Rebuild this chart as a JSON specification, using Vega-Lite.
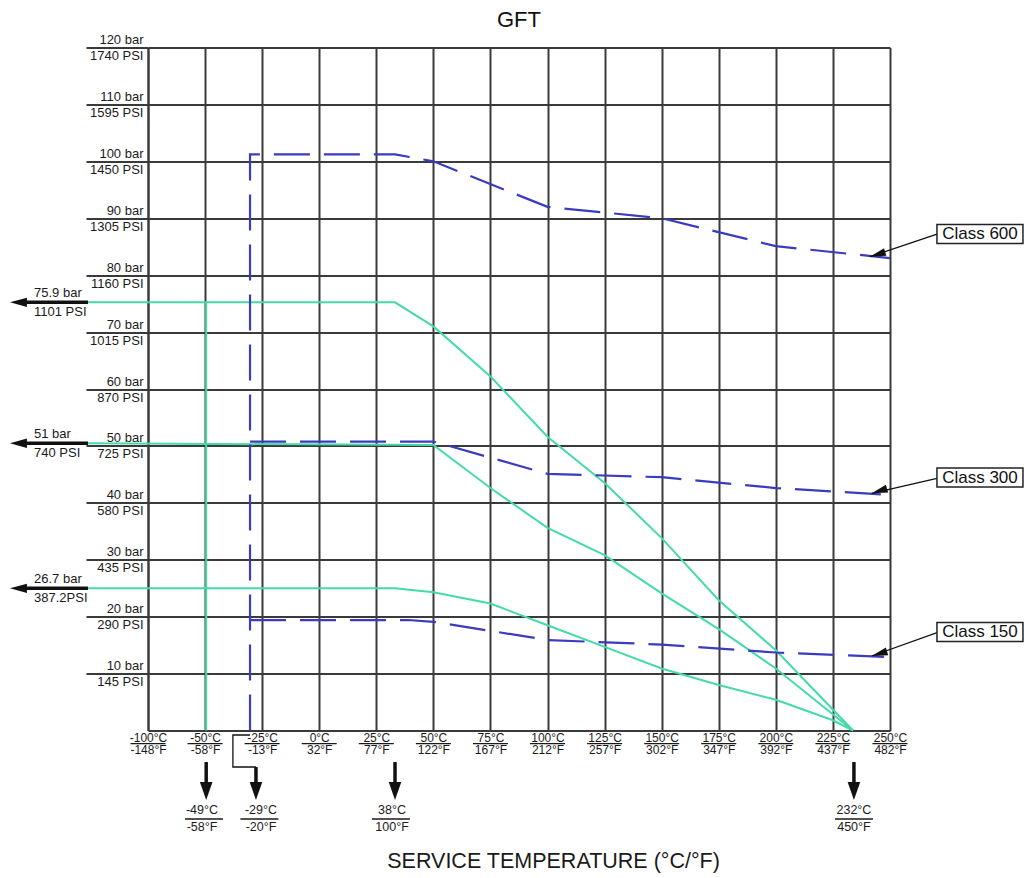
{
  "$schema": "https://vega.github.io/schema/vega-lite/v6.json",
  "width": 742,
  "height": 683,
  "autosize": "none",
  "padding": {"left": 148, "top": 47.5, "right": 139, "bottom": 147.5},
  "background": "white",
  "config": {"view": {"stroke": null}, "font": "Liberation Sans"},
  "title": {"text": "GFT", "fontSize": 22, "fontWeight": "normal", "font": "Liberation Sans", "color": "#111111", "frame": "group", "baseline": "alphabetic", "offset": 18, "dy": 33, "anchor": "middle"},
  "encoding": {
    "x": {
      "field": "t", "type": "quantitative",
      "scale": {"domain": [-100, -50, 250], "range": [0, 57.05, 742], "nice": false, "zero": false},
      "axis": {
        "values": [-100, -50, -25, 0, 25, 50, 75, 100, 125, 150, 175, 200, 225, 250],
        "grid": true, "gridColor": "#3a3a3a", "gridWidth": 2,
        "ticks": false, "domain": true, "domainColor": "#3a3a3a", "domainWidth": 2,
        "labelExpr": "[datum.value + '°C', (datum.value * 9 / 5 + 32) + '°F']",
        "labelFont": "Liberation Sans", "labelFontSize": 12, "labelColor": "#1a1a1a",
        "labelPadding": 1.5, "labelLineHeight": 12.5, "labelBaseline": "top",
        "labelFlush": false, "labelOverlap": false,
        "title": "SERVICE TEMPERATURE (°C/°F)", "titleFont": "Liberation Sans", "titleFontSize": 21.5,
        "titleFontWeight": "normal", "titleColor": "#1a1a1a", "titleY": 130.5, "titleX": 405,
        "titleAlign": "center", "titleBaseline": "middle"
      }
    },
    "y": {
      "field": "p", "type": "quantitative",
      "scale": {"domain": [0, 120], "nice": false, "zero": false},
      "axis": {
        "values": [10, 20, 30, 40, 50, 60, 70, 80, 90, 100, 110, 120],
        "grid": true, "gridColor": "#3a3a3a", "gridWidth": 2,
        "ticks": true, "tickSize": 62, "tickColor": "#3a3a3a", "tickWidth": 2,
        "domain": true, "domainColor": "#3a3a3a", "domainWidth": 2,
        "labelExpr": "[datum.value + ' bar', (datum.value * 14.5) + ' PSI']",
        "labelFont": "Liberation Sans", "labelFontSize": 13, "labelColor": "#1a1a1a",
        "labelPadding": -57, "labelAlign": "right", "labelBaseline": "middle", "labelLineHeight": 16,
        "labelOffset": -8,
        "labelFlush": false, "labelOverlap": false,
        "title": null
      }
    }
  },
  "layer": [
    {
      "data": {"values": [
        {"s": "G1", "t": -152.6, "p": 75.23}, {"s": "G1", "t": 33.2, "p": 75.23}, {"s": "G1", "t": 50, "p": 71.0},
        {"s": "G1", "t": 75, "p": 62.2}, {"s": "G1", "t": 100, "p": 51.6}, {"s": "G1", "t": 125, "p": 43.5},
        {"s": "G1", "t": 150, "p": 33.8}, {"s": "G1", "t": 175, "p": 22.9}, {"s": "G1", "t": 200, "p": 14.1},
        {"s": "G1", "t": 233.8, "p": 0},
        {"s": "G2", "t": -152.6, "p": 50.46}, {"s": "G2", "t": 50, "p": 50.16}, {"s": "G2", "t": 75, "p": 42.6},
        {"s": "G2", "t": 100, "p": 35.6}, {"s": "G2", "t": 125, "p": 30.8}, {"s": "G2", "t": 150, "p": 24.1},
        {"s": "G2", "t": 175, "p": 17.8}, {"s": "G2", "t": 200, "p": 10.9}, {"s": "G2", "t": 233.8, "p": 0},
        {"s": "G3", "t": -152.6, "p": 24.98}, {"s": "G3", "t": 33.2, "p": 24.98}, {"s": "G3", "t": 50, "p": 24.3},
        {"s": "G3", "t": 75, "p": 22.3}, {"s": "G3", "t": 100, "p": 18.5}, {"s": "G3", "t": 125, "p": 14.7},
        {"s": "G3", "t": 150, "p": 10.9}, {"s": "G3", "t": 175, "p": 8.0}, {"s": "G3", "t": 200, "p": 5.4},
        {"s": "G3", "t": 225, "p": 1.8}, {"s": "G3", "t": 233.8, "p": 0},
        {"s": "GV", "t": -49.5, "p": 0}, {"s": "GV", "t": -49.5, "p": 75.23}
      ]},
      "mark": {"type": "line", "color": "#45dba8", "strokeWidth": 2},
      "encoding": {"detail": {"field": "s"}, "order": {"value": null}}
    },
    {
      "data": {"values": [
        {"s": "C600", "t": -30.3, "p": 0}, {"s": "C600", "t": -30.3, "p": 101.23}, {"s": "C600", "t": 33.2, "p": 101.23},
        {"s": "C600", "t": 50, "p": 100.0}, {"s": "C600", "t": 100, "p": 92.0}, {"s": "C600", "t": 150, "p": 90.0},
        {"s": "C600", "t": 200, "p": 85.1}, {"s": "C600", "t": 250, "p": 83.0},
        {"s": "C300", "t": -30.3, "p": 50.77}, {"s": "C300", "t": 50, "p": 50.77}, {"s": "C300", "t": 100, "p": 45.1},
        {"s": "C300", "t": 150, "p": 44.5}, {"s": "C300", "t": 200, "p": 42.6}, {"s": "C300", "t": 250, "p": 41.4},
        {"s": "C150", "t": -30.3, "p": 19.41}, {"s": "C150", "t": 39, "p": 19.41}, {"s": "C150", "t": 50, "p": 19.1},
        {"s": "C150", "t": 100, "p": 15.9}, {"s": "C150", "t": 150, "p": 15.1}, {"s": "C150", "t": 200, "p": 13.7},
        {"s": "C150", "t": 250, "p": 12.9}
      ]},
      "mark": {"type": "line", "color": "#3b3bbf", "strokeWidth": 2.2, "strokeDash": [36, 14]},
      "encoding": {"detail": {"field": "s"}, "order": {"value": null}}
    },
    {
      "data": {"values": [
        {"s": "L1", "t": -152.6, "p": 75.23}, {"s": "L1", "t": -213, "p": 75.23},
        {"s": "L2", "t": -152.6, "p": 50.46}, {"s": "L2", "t": -213, "p": 50.46},
        {"s": "L3", "t": -152.6, "p": 24.98}, {"s": "L3", "t": -213, "p": 24.98},
        {"s": "D1", "t": -49.5, "p": -5.54}, {"s": "D1", "t": -49.5, "p": -11},
        {"s": "D2", "t": -27.7, "p": -6.41}, {"s": "D2", "t": -27.7, "p": -11},
        {"s": "D3", "t": 33.2, "p": -5.54}, {"s": "D3", "t": 33.2, "p": -11},
        {"s": "D4", "t": 234.2, "p": -5.54}, {"s": "D4", "t": 234.2, "p": -11}
      ]},
      "mark": {"type": "line", "color": "#111111", "strokeWidth": 3.5},
      "encoding": {"detail": {"field": "s"}, "order": {"value": null}}
    },
    {
      "data": {"values": [
        {"s": "K", "t": -30.3, "p": -0.79}, {"s": "K", "t": -37.8, "p": -0.79},
        {"s": "K", "t": -37.8, "p": -6.41}, {"s": "K", "t": -27.7, "p": -6.41},
        {"s": "A600", "t": 270.6, "p": 87.23}, {"s": "A600", "t": 241.2, "p": 83.24},
        {"s": "A300", "t": 270.6, "p": 44.31}, {"s": "A300", "t": 242, "p": 41.67},
        {"s": "A150", "t": 270.6, "p": 17.18}, {"s": "A150", "t": 242, "p": 13.09}
      ]},
      "mark": {"type": "line", "color": "#111111", "strokeWidth": 1.3},
      "encoding": {"detail": {"field": "s"}, "order": {"value": null}}
    },
    {
      "data": {"values": [
        {"t": -221, "p": 75.23}, {"t": -221, "p": 50.46}, {"t": -221, "p": 24.98}
      ]},
      "mark": {"type": "point", "shape": "M0,0L2,-0.55L2,0.55Z", "size": 289, "filled": true, "color": "#111111", "opacity": 1, "angle": 0}
    },
    {
      "data": {"values": [
        {"t": -49.5, "p": -12.21}, {"t": -27.7, "p": -12.21}, {"t": 33.2, "p": -12.21}, {"t": 234.2, "p": -12.21}
      ]},
      "mark": {"type": "point", "shape": "M0,0L2,-0.7L2,0.7Z", "size": 324, "filled": true, "color": "#111111", "opacity": 1, "angle": 270}
    },
    {
      "data": {"values": [
        {"t": 241.2, "p": 83.24}, {"t": 242, "p": 41.67}, {"t": 242, "p": 13.09}
      ]},
      "mark": {"type": "point", "shape": "M0,0L2,-0.5L2,0.5Z", "size": 256, "filled": true, "color": "#111111", "opacity": 1, "angle": 343}
    },
    {
      "data": {"values": [
        {"t": 289.4, "p": 87.23, "label": "Class 600"},
        {"t": 289.4, "p": 44.45, "label": "Class 300"},
        {"t": 289.4, "p": 17.31, "label": "Class 150"}
      ]},
      "layer": [
        {"mark": {"type": "point", "shape": "M-1,-0.22H1V0.22H-1Z", "size": 7396, "filled": false, "stroke": "#222222", "strokeWidth": 1.5, "opacity": 1}},
        {"mark": {"type": "text", "font": "Liberation Sans", "fontSize": 17, "color": "#111111", "align": "center", "baseline": "middle"},
         "encoding": {"text": {"field": "label"}}}
      ]
    },
    {
      "data": {"values": [
        {"t": -199.9, "p": 75.23, "label": "75.9 bar\n1101 PSI"},
        {"t": -199.9, "p": 50.46, "label": "51 bar\n740 PSI"},
        {"t": -199.9, "p": 24.98, "label": "26.7 bar\n387.2PSI"}
      ]},
      "mark": {"type": "text", "font": "Liberation Sans", "fontSize": 13, "color": "#1a1a1a", "align": "left", "baseline": "middle", "lineBreak": "\n", "lineHeight": 19, "dy": -9.5},
      "encoding": {"text": {"field": "label"}}
    },
    {
      "data": {"values": [
        {"t": -52.7, "p": -15.45, "label": "-49°C\n-58°F"},
        {"t": -25.5, "p": -15.45, "label": "-29°C\n-20°F"},
        {"t": 31.9, "p": -15.45, "label": "38°C\n100°F"},
        {"t": 234.2, "p": -15.45, "label": "232°C\n450°F"}
      ]},
      "mark": {"type": "text", "font": "Liberation Sans", "fontSize": 12.5, "color": "#1a1a1a", "align": "center", "baseline": "middle", "lineBreak": "\n", "lineHeight": 17, "dy": -8.5},
      "encoding": {"text": {"field": "label"}}
    },
    {
      "data": {"values": [
        {"t": -50.9, "p": -15.55}, {"t": -26.2, "p": -15.55}, {"t": 31.4, "p": -15.55}, {"t": 234.2, "p": -15.55}
      ]},
      "mark": {"type": "point", "shape": "M-1,0H1", "size": 1444, "filled": false, "stroke": "#1a1a1a", "strokeWidth": 1.3, "opacity": 1}
    },
    {
      "data": {"values": [
        {"t": -100, "p": -2.3}, {"t": -50, "p": -2.3}, {"t": -25, "p": -2.3}, {"t": 0, "p": -2.3},
        {"t": 25, "p": -2.3}, {"t": 50, "p": -2.3}, {"t": 75, "p": -2.3}, {"t": 100, "p": -2.3},
        {"t": 125, "p": -2.3}, {"t": 150, "p": -2.3}, {"t": 175, "p": -2.3}, {"t": 200, "p": -2.3},
        {"t": 225, "p": -2.3}, {"t": 250, "p": -2.3}
      ]},
      "mark": {"type": "point", "shape": "M-1,0H1", "size": 1225, "filled": false, "stroke": "#1a1a1a", "strokeWidth": 1.3, "opacity": 1}
    }
  ]
}
